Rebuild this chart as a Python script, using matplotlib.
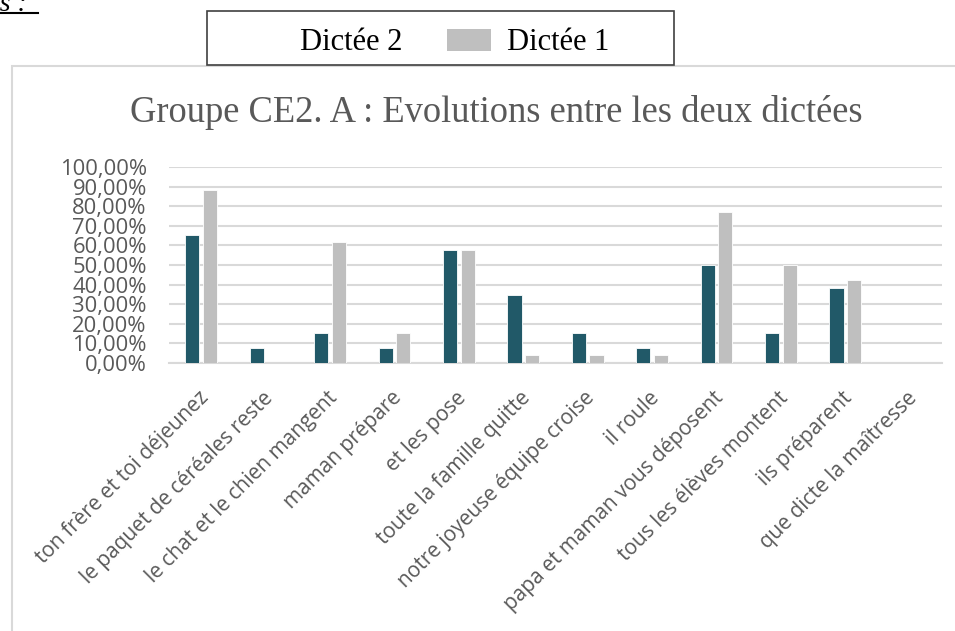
import matplotlib
matplotlib.use("Agg")
import matplotlib.pyplot as plt
import matplotlib.patches as patches
import matplotlib.transforms as mtransforms
import numpy as np

# données (proportion d'élèves, groupe de 26)
categories = [
    "ton frère et toi déjeunez",
    "le paquet de céréales reste",
    "le chat et le chien mangent",
    "maman prépare",
    "et les pose",
    "toute la famille quitte",
    "notre joyeuse équipe croise",
    "il roule",
    "papa et maman vous déposent",
    "tous les élèves montent",
    "ils préparent",
    "que dicte la maîtresse",
]
dictee2 = [0.6538, 0.0769, 0.1538, 0.0769, 0.5769, 0.3462, 0.1538, 0.0769, 0.5000, 0.1538, 0.3846, 0.0]
dictee1 = [0.8846, 0.0, 0.6154, 0.1538, 0.5769, 0.0385, 0.0385, 0.0385, 0.7692, 0.5000, 0.4231, 0.0]
y_ticks = [i / 10 for i in range(11)]
y_tick_labels = ["0,00%", "10,00%", "20,00%", "30,00%", "40,00%", "50,00%",
                 "60,00%", "70,00%", "80,00%", "90,00%", "100,00%"]

colors = {"d2": "#215968", "d1": "#BFBFBF", "grid": "#D9D9D9", "text": "#595959"}

W, H = 955, 631
fig = plt.figure(figsize=(W / 100, H / 100), dpi=100)


def px(x, y):
    # pixel coordinates -> figure fraction
    return x / W, 1 - y / H


# cadre du graphique
frame = patches.Rectangle(px(12, 700), 1100 / W, (700 - 66) / H, transform=fig.transFigure,
                          facecolor="none", edgecolor=colors["grid"], linewidth=1.5)
fig.patches.append(frame)

ax = fig.add_axes([169 / W, 1 - 363 / H, (942 - 169) / W, (363 - 167) / H])
x = np.arange(len(categories))
w = 0.22
ax.bar(x - 0.137, dictee2, w, color=colors["d2"], edgecolor="white", linewidth=0.6, zorder=3)
ax.bar(x + 0.137, dictee1, w, color=colors["d1"], edgecolor="white", linewidth=0.6, zorder=3)

ax.set_xlim(-0.5, len(categories) - 0.5)
ax.set_ylim(0, 1)
ax.set_yticks(y_ticks)
ax.set_yticklabels(y_tick_labels, fontsize=15.8, family="Open Sans", color=colors["text"])
ax.yaxis.grid(True, color=colors["grid"], linewidth=1.5, zorder=0)
ax.set_axisbelow(True)
for s in ["top", "right", "left"]:
    ax.spines[s].set_visible(False)
ax.spines["bottom"].set_color(colors["grid"])
ax.spines["bottom"].set_linewidth(1.5)
ax.tick_params(axis="both", length=0)
ax.tick_params(axis="y", pad=16)

ax.set_xticks(x)
ax.set_xticklabels(categories, rotation=45, ha="right", va="center", rotation_mode="anchor",
                   fontsize=15, family="Open Sans", color=colors["text"])
offset = mtransforms.ScaledTranslation(4 / 100, -27 / 100, fig.dpi_scale_trans)
for lab in ax.get_xticklabels():
    lab.set_transform(lab.get_transform() + offset)

# titre
fig.text(*px(496, 122), "Groupe CE2. A : Evolutions entre les deux dictées", ha="center",
         va="baseline", fontsize=26.3, family="Liberation Serif", color=colors["text"])

# légende
leg = patches.Rectangle(px(207, 65), (674 - 207) / W, (65 - 11) / H, transform=fig.transFigure,
                        facecolor="white", edgecolor="#404040", linewidth=1.2, zorder=5)
fig.patches.append(leg)
sq = patches.Rectangle(px(447, 51), 44 / W, 22 / H, transform=fig.transFigure,
                       facecolor=colors["d1"], edgecolor="none", zorder=6)
fig.patches.append(sq)
fig.text(*px(300, 50), "Dictée 2", ha="left", va="baseline", fontsize=22,
         family="Liberation Serif", color="black", zorder=7)
fig.text(*px(507, 50), "Dictée 1", ha="left", va="baseline", fontsize=22,
         family="Liberation Serif", color="black", zorder=7)

# reste du texte de la page, coupé
fig.text(*px(-8, 11), "is :", ha="left", va="baseline", fontsize=20, style="italic",
         family="Liberation Serif", color="black")
fig.add_artist(plt.Line2D([0, 38 / W], [1 - 13 / H, 1 - 13 / H], transform=fig.transFigure,
                          color="black", linewidth=1.5))

fig.savefig("out.png", dpi=100)
